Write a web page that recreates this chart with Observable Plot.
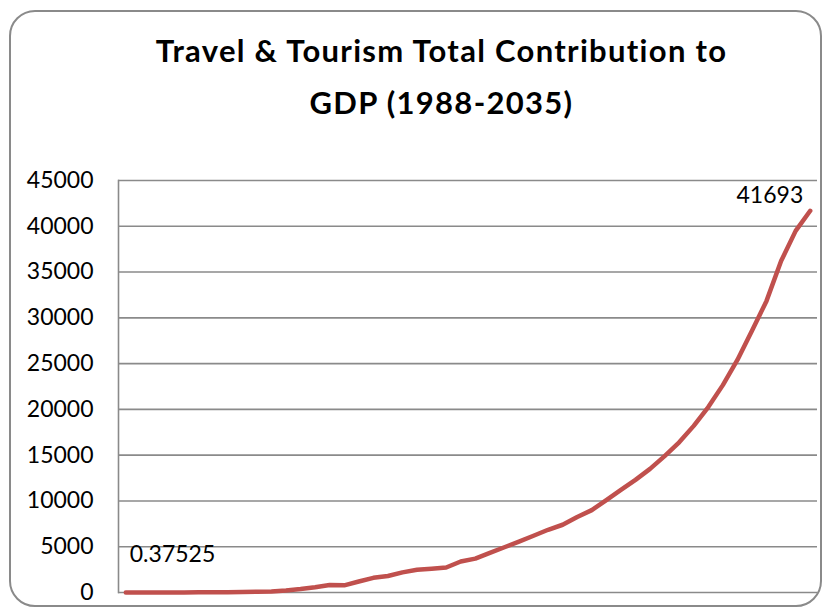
<!DOCTYPE html>
<html>
<head>
<meta charset="utf-8">
<script src="https://cdn.jsdelivr.net/npm/d3@7"></script>
<script src="https://cdn.jsdelivr.net/npm/@observablehq/plot@0.6"></script>
<style>
  html, body { margin: 0; padding: 0; background: #fff; }
  #wrap { position: relative; width: 823px; height: 609px; overflow: hidden; background: #fff; }
  #frame { position: absolute; left: 9px; top: 10px; width: 813px; height: 597px; box-sizing: border-box;
           border: 2px solid #8a8a8a; border-radius: 26px; }
  #title { position: absolute; left: 0; top: 24px; width: 883px; text-align: center;
           font-family: Lato, sans-serif; font-weight: bold; font-size: 31px; letter-spacing: 1.3px;
           line-height: 52px; color: #000; }
  #chart { position: absolute; left: 0; top: 0; }
</style>
</head>
<body>
<div id="wrap">
  <div id="frame"></div>
  <div id="chart"></div>
  <div id="title">Travel &amp; Tourism Total Contribution to<br>GDP (1988-2035)</div>
</div>
<script>
const years = [1988,1989,1990,1991,1992,1993,1994,1995,1996,1997,1998,1999,2000,2001,2002,2003,
  2004,2005,2006,2007,2008,2009,2010,2011,2012,2013,2014,2015,2016,2017,2018,2019,
  2020,2021,2022,2023,2024,2025,2026,2027,2028,2029,2030,2031,2032,2033,2034,2035];
const values = [0.37525,1,3,6,12,20,30,40,55,75,110,220,380,580,820,780,
  1200,1600,1800,2200,2480,2600,2730,3385,3700,4320,4940,5560,6200,6850,7400,8250,
  9000,10100,11200,12300,13500,14900,16400,18200,20250,22650,25400,28600,31850,36200,39500,41693];
const yTicks = [0,5000,10000,15000,20000,25000,30000,35000,40000,45000];

const data = years.map((y, i) => ({year: y, value: values[i]}));
const first = [data[0]];
const last = [data[data.length - 1]];

const chart = Plot.plot({
  width: 823,
  height: 609,
  marginTop: 180,
  marginBottom: 17,
  marginLeft: 118,
  marginRight: 6,
  style: {fontFamily: "Lato, sans-serif", fontSize: "23px", color: "#000", background: "transparent"},
  x: {type: "point", domain: years, padding: 0.5, round: false, axis: null},
  y: {domain: [0, 45000], ticks: yTicks, label: null},
  marks: [
    Plot.ruleY(yTicks, {stroke: "#8a8a8a", strokeWidth: 1.6}),
    Plot.frame({anchor: "left", stroke: "#8a8a8a", strokeWidth: 1.6}),
    Plot.axisY({ticks: yTicks, tickSize: 0, tickPadding: 25, tickFormat: d => String(d), fontSize: 23, label: null}),
    Plot.line(data, {x: "year", y: "value", stroke: "#C0504D", strokeWidth: 4.5, strokeLinecap: "round", strokeLinejoin: "round"}),
    Plot.text(first, {x: "year", y: "value", text: d => String(d.value), textAnchor: "start", dx: 4, dy: -38, fill: "#000", fontSize: 23}),
    Plot.text(last, {x: "year", y: "value", text: d => String(d.value), textAnchor: "end", dx: -7, dy: -15, fill: "#000", fontSize: 23})
  ]
});
document.getElementById("chart").appendChild(chart);
</script>
</body>
</html>
